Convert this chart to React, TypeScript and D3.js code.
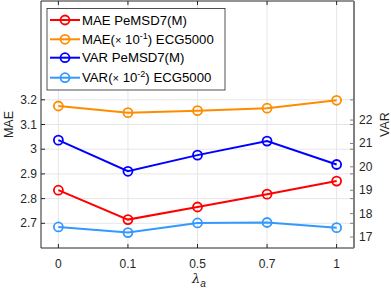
import React from 'react';
import { scaleLinear, line } from 'd3';

const lambdas = ['0', '0.1', '0.5', '0.7', '1'];
const maeTicks = [2.7, 2.8, 2.9, 3.0, 3.1, 3.2];
const varTicks = [17, 18, 19, 20, 21, 22];

// left axis (MAE)
const maePems = [2.834, 2.715, 2.766, 2.818, 2.871];
const maeEcg = [3.175, 3.148, 3.156, 3.166, 3.198];
// right axis (VAR)
const varPems = [21.14, 19.81, 20.5, 21.1, 20.1];
const varEcg = [17.43, 17.19, 17.6, 17.62, 17.4];

const seriesNames = ['MAE PeMSD7(M)', 'MAE', 'VAR PeMSD7(M)', 'VAR'];

const W = 391;
const H = 293;
const left = 41;
const right = 354;
const top = 1;
const bottom = 248;
const font = 'Liberation Sans, Arial, Helvetica, sans-serif';

export default function App() {
  const x = scaleLinear().domain([-0.25, lambdas.length - 0.75]).range([left, right]);
  const yL = scaleLinear().domain([2.6, 3.6]).range([bottom, top]);
  const yR = scaleLinear().domain([16.53, 27.09]).range([bottom, top]);

  const series = [
    { vals: maePems, y: yL, color: '#ff0000' },
    { vals: maeEcg, y: yL, color: '#ff8c00' },
    { vals: varPems, y: yR, color: '#0000ff' },
    { vals: varEcg, y: yR, color: '#3399ff' },
  ];

  const mk = (s) =>
    line<number>()
      .x((d, i) => x(i))
      .y((d) => s.y(d))(s.vals);

  const legendY = [20, 39.3, 57.7, 77.7];

  return (
    <svg width={W} height={H} style={{ position: 'absolute', left: 0, top: 0 }} fontFamily={font}>
      <rect width={W} height={H} fill="#fff" />
      {/* grid */}
      {maeTicks.map((t) => (
        <line key={'gy' + t} x1={left} x2={right} y1={yL(t)} y2={yL(t)} stroke="#e6e6e6" strokeWidth={1} />
      ))}
      {lambdas.map((l, i) => (
        <line key={'gx' + l} x1={x(i)} x2={x(i)} y1={top} y2={bottom} stroke="#e6e6e6" strokeWidth={1} />
      ))}

      {/* lines */}
      {series.map((s, k) => (
        <g key={k}>
          <path d={mk(s)} fill="none" stroke={s.color} strokeWidth={2} />
          {s.vals.map((v, i) => (
            <circle key={i} cx={x(i)} cy={s.y(v)} r={4.5} fill="none" stroke={s.color} strokeWidth={1.8} />
          ))}
        </g>
      ))}

      {/* axes box */}
      <line x1={left} x2={right} y1={top} y2={top} stroke="#262626" strokeWidth={1} />
      <line x1={left} x2={right} y1={bottom} y2={bottom} stroke="#262626" strokeWidth={1} />
      <line x1={left} x2={left} y1={top} y2={bottom} stroke="#262626" strokeWidth={1} />
      <line x1={right} x2={right} y1={top} y2={bottom} stroke="#808080" strokeWidth={2} />

      {/* x ticks */}
      {lambdas.map((l, i) => (
        <g key={'xt' + l}>
          <line x1={x(i)} x2={x(i)} y1={bottom} y2={bottom - 4} stroke="#262626" />
          <line x1={x(i)} x2={x(i)} y1={top} y2={top + 4} stroke="#262626" />
          <text x={x(i)} y={268} textAnchor="middle" fontSize={12} fill="#262626">
            {l}
          </text>
        </g>
      ))}

      {/* left ticks */}
      {maeTicks.map((t) => (
        <g key={'yl' + t}>
          <line x1={left} x2={left + 4} y1={yL(t)} y2={yL(t)} stroke="#262626" />
          <line x1={right} x2={right - 4} y1={yL(t)} y2={yL(t)} stroke="#808080" />
          <text x={37} y={yL(t) + 4} textAnchor="end" fontSize={12} fill="#262626">
            {String(t)}
          </text>
        </g>
      ))}

      {/* right ticks */}
      {varTicks.map((t) => (
        <g key={'yr' + t}>
          <line x1={right} x2={right - 4} y1={yR(t)} y2={yR(t)} stroke="#808080" />
          <text x={359} y={yR(t) + 4} textAnchor="start" fontSize={12} fill="#262626">
            {t}
          </text>
        </g>
      ))}

      {/* axis labels */}
      <text transform={`translate(13,${(top + bottom) / 2}) rotate(-90)`} textAnchor="middle" fontSize={12.5} fill="#262626">
        MAE
      </text>
      <text transform={`translate(389,${(top + bottom) / 2}) rotate(-90)`} textAnchor="middle" fontSize={12.5} fill="#262626">
        VAR
      </text>
      <text x={192} y={283} fontSize={13} fill="#262626" fontFamily="DejaVu Serif, serif" fontStyle="italic">
        λ
        <tspan fontSize={10} dy={4} fontFamily={font}>a</tspan>
      </text>

      {/* legend */}
      <rect x={47} y={8.5} width={178} height={81.5} fill="#fff" stroke="#262626" strokeWidth={0.8} />
      {series.map((s, k) => (
        <g key={'lg' + k}>
          <line x1={50} x2={80} y1={legendY[k]} y2={legendY[k]} stroke={s.color} strokeWidth={2} />
          <circle cx={65} cy={legendY[k]} r={4.5} fill="none" stroke={s.color} strokeWidth={1.8} />
          <text x={82} y={legendY[k] + 4.5} fontSize={13.2} fill="#000">
            {k === 1 || k === 3 ? (
              <>
                {seriesNames[k]}(<tspan fontSize={11}>×</tspan> 10<tspan dy={-5} fontSize={9}>{k === 1 ? '-1' : '-2'}</tspan>
                <tspan dy={5}>) ECG5000</tspan>
              </>
            ) : (
              seriesNames[k]
            )}
          </text>
        </g>
      ))}
    </svg>
  );
}
